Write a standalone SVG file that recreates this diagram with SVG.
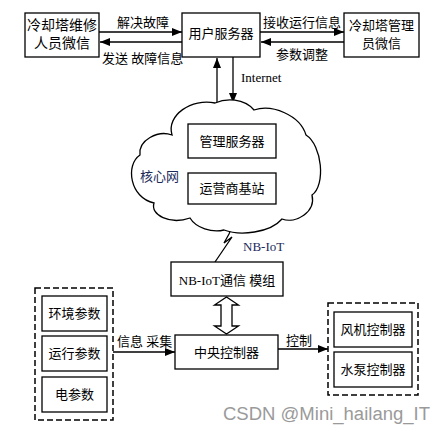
<svg xmlns="http://www.w3.org/2000/svg" width="445" height="434" viewBox="0 0 445 434">
<style>
.box{fill:#fff;stroke:#000;stroke-width:1.3}
.grp{fill:none;stroke:#000;stroke-width:1.5;stroke-dasharray:6,3}
.t{font-family:"Liberation Serif","Noto Sans CJK SC",serif;font-size:13px;fill:#000}
.c{text-anchor:middle}
.ln{fill:none;stroke:#000;stroke-width:1.3}
.blue{fill:#1c2a5c}
</style>
<defs>
<marker id="ah" viewBox="0 0 10 8" refX="10" refY="4" markerWidth="10" markerHeight="8" markerUnits="userSpaceOnUse" orient="auto">
<path d="M0,0 L10,4 L0,8 Z" fill="#000"/>
</marker>
</defs>
<rect width="445" height="434" fill="#fff"/>

<g id="connectors">
<line class="ln" x1="99" y1="32" x2="182" y2="32" marker-end="url(#ah)"/>
<line class="ln" x1="182" y1="42" x2="100" y2="42" marker-end="url(#ah)"/>
<line class="ln" x1="260" y1="32" x2="344" y2="32" marker-end="url(#ah)"/>
<line class="ln" x1="344" y1="42" x2="261" y2="42" marker-end="url(#ah)"/>
<line class="ln" x1="217" y1="104" x2="217" y2="58" marker-end="url(#ah)"/>
<line class="ln" x1="233" y1="57" x2="233" y2="103" marker-end="url(#ah)"/>
<polyline class="ln" points="240,207 229,234 224,243 232,237 215,262"/>
<polygon points="226.5,297 238.5,305 232,305 232,326 238.5,326 226.5,334 214.5,326 221,326 221,305 214.5,305" fill="#fff" stroke="#000" stroke-width="1.3"/>
<line class="ln" x1="113" y1="352" x2="175" y2="352" marker-end="url(#ah)"/>
<line class="ln" x1="278" y1="349" x2="328" y2="349" marker-end="url(#ah)"/>
<text class="t" x="143" y="27" text-anchor="middle">解决故障</text>
<text class="t" x="102" y="63">发送 故障信息</text>
<text class="t" x="263" y="27">接收运行信息</text>
<text class="t" x="276" y="59">参数调整</text>
<text class="t" x="241" y="82">Internet</text>
<text class="t blue" x="243" y="251">NB-IoT</text>
<text class="t" x="117" y="346">信息 采集</text>
<text class="t" x="286" y="345">控制</text>
</g>

<g id="repair-wechat">
<rect class="box" x="25" y="13" width="74" height="44"/>
<text class="t c" x="62" y="30" style="font-size:14px">冷却塔维修</text>
<text class="t c" x="62" y="48" style="font-size:14px">人员微信</text>
</g>

<g id="user-server">
<rect class="box" x="182" y="13" width="78" height="44"/>
<text class="t c" x="221" y="38">用户服务器</text>
</g>

<g id="manager-wechat">
<rect class="box" x="344" y="13" width="75" height="44"/>
<text class="t c" x="381.5" y="30">冷却塔管理</text>
<text class="t c" x="381.5" y="48">员微信</text>
</g>

<g id="core-network">
<path d="M172,135 C166,115 192,98 215,103 C226,98 244,98 254,110 C272,104 300,115 306,135 C322,145 326,185 312,195 C316,212 296,224 282,219 C270,233 240,236 224,230 C212,233 196,228 190,218 C170,225 150,215 154,203 C130,198 125,165 140,155 C138,140 158,130 172,135 Z" fill="#fff" stroke="#000" stroke-width="1.3"/>
<text class="t blue" x="140" y="181">核心网</text>
</g>

<g id="mgmt-server">
<rect class="box" x="188" y="124" width="88" height="34"/>
<text class="t c" x="232" y="146">管理服务器</text>
</g>

<g id="base-station">
<rect class="box" x="188" y="173" width="88" height="31"/>
<text class="t c" x="232" y="193">运营商基站</text>
</g>

<g id="nbiot-module">
<rect class="box" x="171" y="262" width="112" height="34"/>
<text class="t c" x="227" y="285">NB-IoT通信 模组</text>
</g>

<g id="central-controller">
<rect class="box" x="175" y="335" width="103" height="34"/>
<text class="t c" x="226.5" y="357">中央控制器</text>
</g>

<g id="sensors">
<rect class="grp" x="35" y="288" width="78" height="132"/>
<g id="env-param">
<rect class="box" x="42" y="296" width="65" height="35"/>
<text class="t c" x="74.5" y="318">环境参数</text>
</g>
<g id="run-param">
<rect class="box" x="42" y="336" width="65" height="35"/>
<text class="t c" x="74.5" y="358">运行参数</text>
</g>
<g id="elec-param">
<rect class="box" x="42" y="377" width="65" height="35"/>
<text class="t c" x="74.5" y="399">电参数</text>
</g>
</g>

<g id="actuators">
<rect class="grp" x="328" y="303" width="90" height="92"/>
<g id="fan-ctrl">
<rect class="box" x="334" y="312" width="78" height="35"/>
<text class="t c" x="373" y="334">风机控制器</text>
</g>
<g id="pump-ctrl">
<rect class="box" x="334" y="352" width="78" height="35"/>
<text class="t c" x="373" y="374">水泵控制器</text>
</g>
</g>

<text x="223" y="420" textLength="207" lengthAdjust="spacingAndGlyphs" style="font-family:'Liberation Sans',sans-serif;font-size:18px;fill:#9a9a9a">CSDN @Mini_hailang_IT</text>
</svg>
